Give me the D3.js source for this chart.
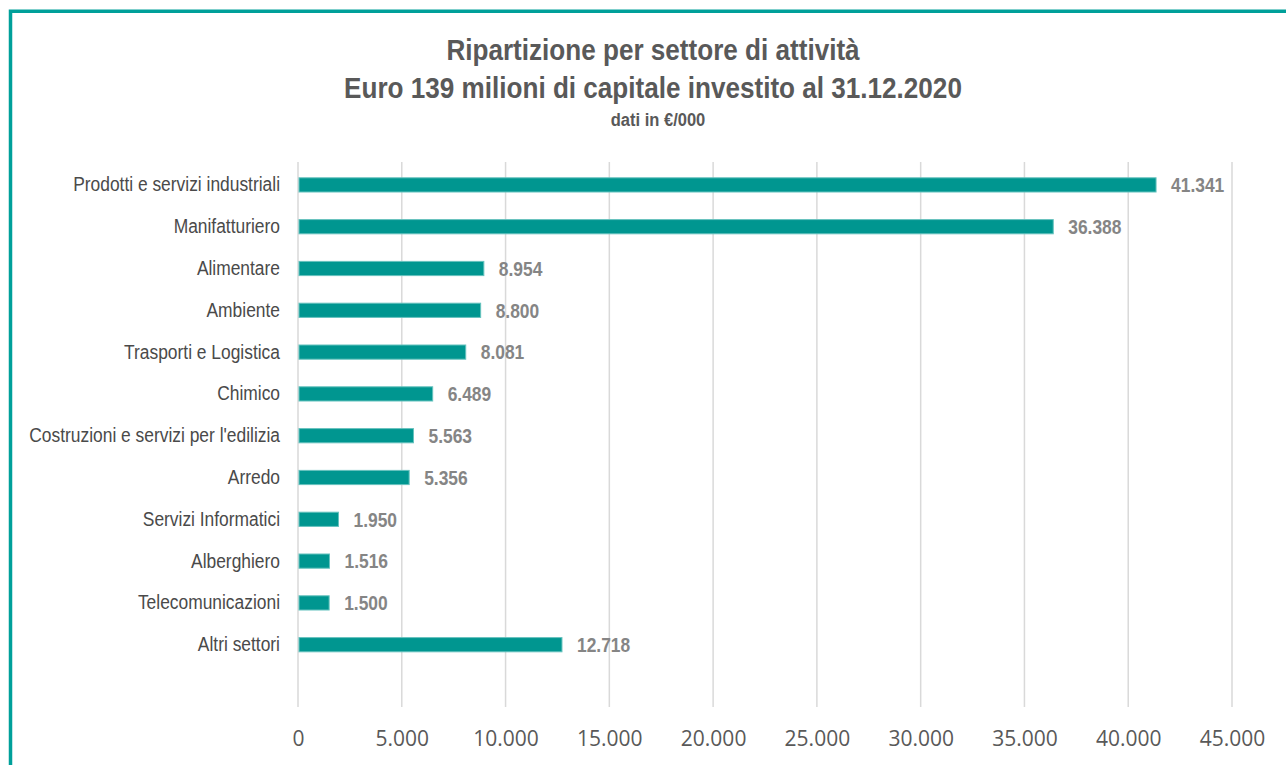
<!DOCTYPE html>
<html>
<head>
<meta charset="utf-8">
<script src="https://cdn.jsdelivr.net/npm/d3@7"></script>
<style>
  body { margin: 0; background: #fff; }
  svg { display: block; }
</style>
</head>
<body>
<div id="chart-container"></div>
<script>
// Data (€/000)
const categories = [
    "Prodotti e servizi industriali",
    "Manifatturiero",
    "Alimentare",
    "Ambiente",
    "Trasporti e Logistica",
    "Chimico",
    "Costruzioni e servizi per l'edilizia",
    "Arredo",
    "Servizi Informatici",
    "Alberghiero",
    "Telecomunicazioni",
    "Altri settori"
];
const values = [41341, 36388, 8954, 8800, 8081, 6489, 5563, 5356, 1950, 1516, 1500, 12718];
const xTicks = [0, 5000, 10000, 15000, 20000, 25000, 30000, 35000, 40000, 45000];
const titleLines = [
    "Ripartizione per settore di attività",
    "Euro 139 milioni di capitale investito al 31.12.2020"
];
const subtitle = "dati in €/000";

const W = 1286, H = 765;
// no narrow font installed, so squeeze Liberation Sans horizontally
const narrow = "'Liberation Sans', Arial, sans-serif";
const squeeze = "scale(0.87,1)";
const teal = "#009690";
const fmt = (d) => d3.format(",")(d).replace(/,/g, ".");

const svg = d3.select("#chart-container")
    .append("svg")
    .attr("width", W)
    .attr("height", H);

// Frame (teal border, cut off at right and bottom)
svg.append("path")
    .attr("d", `M10.5,${H + 5} V11.3 H${W + 5}`)
    .attr("fill", "none")
    .attr("stroke", "#00a09a")
    .attr("stroke-width", 3.5);

// Titles
svg.selectAll(".title")
    .data(titleLines)
    .enter()
    .append("text")
    .attr("class", "title")
    .attr("transform", (d, i) => `translate(653,${60 + i * 38}) ${squeeze}`)
    .attr("text-anchor", "middle")
    .attr("font-family", narrow)
    .attr("font-size", "30px")
    .attr("font-weight", "bold")
    .attr("fill", "#595959")
    .text((d) => d);

svg.append("text")
    .attr("transform", `translate(658,126) ${squeeze}`)
    .attr("text-anchor", "middle")
    .attr("font-family", narrow)
    .attr("font-size", "19px")
    .attr("font-weight", "bold")
    .attr("fill", "#595959")
    .text(subtitle);

// Scales
const x = d3.scaleLinear().domain([0, 45000]).range([298, 1232]);
const bandStep = 41.8;
const y = d3.scaleBand()
    .domain(categories)
    .range([164, 164 + bandStep * categories.length])
    .paddingInner(0.66)
    .paddingOuter(0.33);
const gridBottom = 707;

// Gridlines
svg.append("g")
    .selectAll("line")
    .data(xTicks)
    .enter()
    .append("line")
    .attr("x1", (d) => x(d))
    .attr("x2", (d) => x(d))
    .attr("y1", 162)
    .attr("y2", gridBottom)
    .attr("stroke", "#d9d9d9")
    .attr("stroke-width", 1.5);

// X axis labels
const xAxis = d3.axisBottom(x)
    .tickValues(xTicks)
    .tickSize(0)
    .tickPadding(0)
    .tickFormat(fmt);
const gx = svg.append("g")
    .attr("transform", `translate(0,${gridBottom + 24})`)
    .call(xAxis);
gx.select(".domain").remove();
gx.selectAll("text")
    .attr("font-family", "'Open Sans', 'Noto Sans', sans-serif")
    .attr("font-size", "21px")
    .attr("fill", "#595959");

// Y axis labels
const yAxis = d3.axisLeft(y).tickSize(0).tickPadding(0);
const gy = svg.append("g")
    .attr("transform", "translate(280,0)")
    .call(yAxis);
gy.select(".domain").remove();
gy.selectAll("text")
    .attr("transform", squeeze)
    .attr("font-family", narrow)
    .attr("font-size", "20px")
    .attr("fill", "#4a4a4a");

// Bars
svg.selectAll("rect.bar")
    .data(values)
    .enter()
    .append("rect")
    .attr("class", "bar")
    .attr("x", x(0) + 1)
    .attr("y", (d, i) => y(categories[i]))
    .attr("width", (d) => x(d) - x(0) - 1)
    .attr("height", y.bandwidth())
    .attr("fill", teal)
    .attr("stroke", "#66c2be")
    .attr("stroke-width", 1);

// Value labels
svg.selectAll("text.val")
    .data(values)
    .enter()
    .append("text")
    .attr("class", "val")
    .attr("transform", (d, i) =>
        `translate(${x(d) + 15},${y(categories[i]) + y.bandwidth() / 2}) ${squeeze}`)
    .attr("dy", "0.36em")
    .attr("font-family", narrow)
    .attr("font-size", "20px")
    .attr("font-weight", "bold")
    .attr("fill", "#858585")
    .text(fmt);
</script>
</body>
</html>
